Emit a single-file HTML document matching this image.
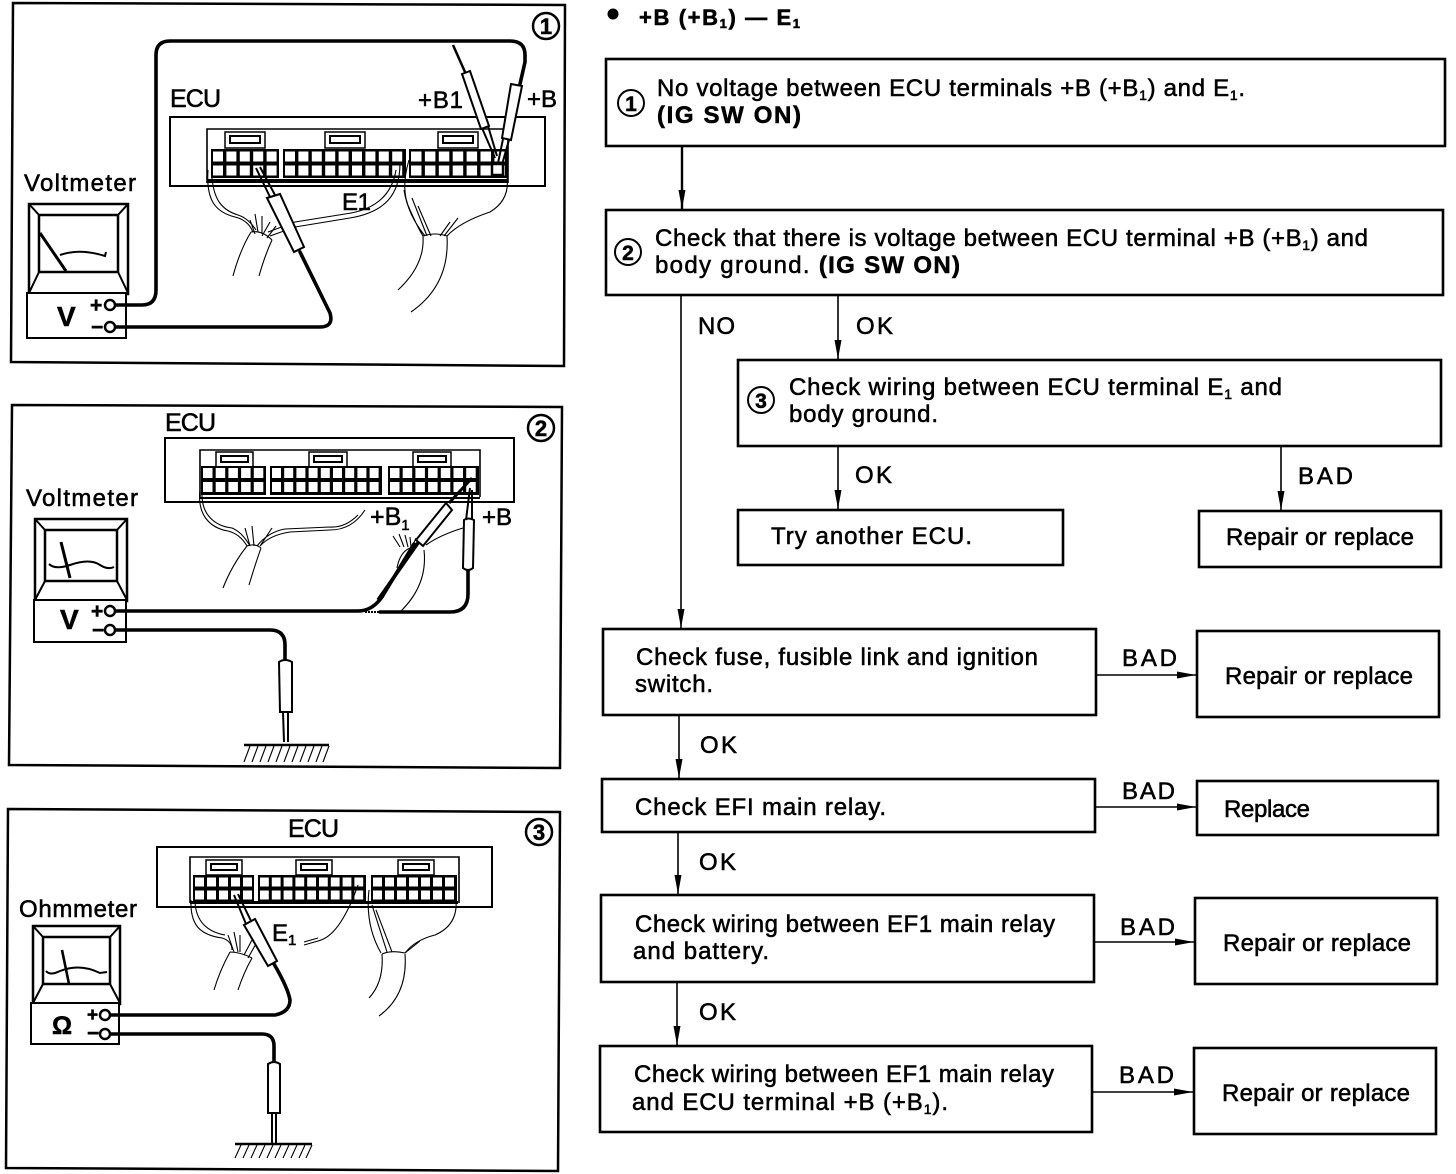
<!DOCTYPE html>
<html><head><meta charset="utf-8"><style>
html,body{margin:0;padding:0;background:#fff}
svg{display:block}
text{font-family:"Liberation Sans",sans-serif;fill:#000;stroke:#000;stroke-width:.55}
.t{font-size:24px;letter-spacing:0}
.b{font-weight:bold}
.f{fill:none;stroke:#000;stroke-width:2}
.box{fill:#fff;stroke:#000;stroke-width:2.6}
.thin{fill:none;stroke:#000;stroke-width:1.1}
.w{fill:none;stroke:#000;stroke-width:3.6;stroke-linecap:round}
.c{fill:none;stroke:#fff}
.pb{fill:#fff;stroke:#000;stroke-width:2}
</style></head><body>
<svg width="1456" height="1174" viewBox="0 0 1456 1174" xmlns="http://www.w3.org/2000/svg">
<defs>
<marker id="a" markerWidth="20" markerHeight="10" refX="19" refY="5" orient="auto" markerUnits="userSpaceOnUse"><path d="M0,1.5 L0,8.5 L19,5 Z"/></marker>
</defs>
<rect width="1456" height="1174" fill="#fff"/>

<!-- PANEL 1 -->
<path d="M13,3 L565,5 L564,366 L11,362 Z" fill="none" stroke="#000" stroke-width="2.5"/>
<circle cx="546" cy="26" r="13" fill="none" stroke="#000" stroke-width="2.5"/>
<text x="546" y="34" text-anchor="middle" style="font-size:22px;font-weight:bold">1</text>
<text x="170" y="107" style="font-size:25px" textLength="51">ECU</text>
<text x="418" y="108" style="font-size:24px" textLength="45">+B1</text>
<text x="527" y="107" style="font-size:24px" textLength="30">+B</text>
<text x="24" y="191" style="font-size:24px" textLength="112">Voltmeter</text>
<text x="342" y="210" style="font-size:24px" textLength="29">E1</text>
<rect x="170" y="117" width="375" height="69" fill="#fff" stroke="#000" stroke-width="2"/>
<path d="M207,183 V129 H508 V183" fill="none" stroke="#000" stroke-width="1.6"/>
<rect x="208" y="179" width="300" height="4"/>
<rect x="225" y="132" width="40" height="16" fill="#fff" stroke="#000" stroke-width="1.5"/><rect x="230" y="136" width="30" height="7" fill="#fff" stroke="#000" stroke-width="2"/>
<rect x="325" y="132" width="40" height="16" fill="#fff" stroke="#000" stroke-width="1.5"/><rect x="330" y="136" width="30" height="7" fill="#fff" stroke="#000" stroke-width="2"/>
<rect x="438" y="132" width="40" height="16" fill="#fff" stroke="#000" stroke-width="1.5"/><rect x="443" y="136" width="30" height="7" fill="#fff" stroke="#000" stroke-width="2"/>
<rect x="211" y="149" width="68" height="29"/><rect x="283" y="149" width="123" height="29"/><rect x="409" y="149" width="99" height="29"/>
<path class="c" d="M213,156.5 H279 M213,170.5 H279" stroke-width="10" stroke-dasharray="10 3.4"/>
<path class="c" d="M285,156.5 H405 M285,170.5 H405" stroke-width="10" stroke-dasharray="10 3.4"/>
<path class="c" d="M411,156.5 H507 M411,170.5 H507" stroke-width="10" stroke-dasharray="10.5 3.4"/>
<path class="thin" d="M208,170 C206,200 215,212 235,217 Q248,220 253,232 M212,178 C214,200 222,210 238,215 Q248,218 256,230"/>
<path class="thin" d="M400,163 C400,195 385,212 350,218 L295,227 L270,236 M396,170 C392,195 375,210 345,214 L295,222 L268,232"/>
<path class="thin" d="M255,214 L258,232 M262,216 L262,234 M270,222 L262,236 M276,226 L267,238 M250,220 L255,234"/>
<path class="thin" d="M251,232 Q240,250 233,276 M272,240 Q265,255 259,276 M251,232 Q262,230 272,240"/>
<path class="thin" d="M409,160 Q400,190 410,210 Q418,228 423,236 M404,190 Q408,215 425,236 M412,198 L427,236 M418,206 L431,236 M458,218 L444,236 M450,222 L440,236"/>
<path class="thin" d="M507,177 Q510,200 490,212 Q460,222 447,236"/>
<path class="thin" d="M423,236 Q425,265 398,290 M447,236 Q450,285 411,312 M423,236 Q435,232 447,236"/>
<rect x="29" y="204" width="99" height="90" fill="#fff" stroke="#000" stroke-width="2.5"/>
<rect x="27" y="293" width="99" height="45" fill="#fff" stroke="#000" stroke-width="2"/>
<rect x="39" y="215" width="79" height="57" fill="#fff" stroke="#000" stroke-width="2.5"/>
<path class="f" stroke-width="1.5" d="M29,204 L39,215 M128,204 L118,215 M39,272 L29,293 M118,272 L128,293"/>
<path d="M40,233 L66,271" stroke="#000" stroke-width="3"/>
<path class="f" stroke-width="1.5" d="M60,255 Q80,248 105,256 L106,252"/>
<text x="57" y="326" class="b" style="font-size:28px">V</text>
<text x="90" y="312" class="b" style="font-size:21px">+</text>
<text x="91" y="334" class="b" style="font-size:21px">−</text>
<path class="w" d="M110,305 H142 Q156,305 156,290 V55 Q156,41 170,41 H510 Q525,41 525,55 V62 L520,84"/>
<path class="w" d="M110,327 H320 Q334,327 330,313 L300,252"/>
<path d="M453,45 L465,72" stroke="#000" stroke-width="2.5"/>
<path class="pb" d="M462,74 L470,71 L489,126 L481,129 Z"/>
<path class="f" stroke-width="1.5" d="M482,128 L495,158 M488,126 L497,156"/>
<path class="pb" d="M511,84 L522,86 L511,140 L502,138 Z"/>
<path class="f" stroke-width="1.5" d="M503,139 L497,168 M509,140 L501,168"/>
<rect x="492" y="164" width="11" height="11" fill="#fff" stroke="#000" stroke-width="2.5"/>
<path class="pb" d="M267,198 L280,194 L304,247 L294,252 Z"/>
<path class="f" stroke-width="1.5" d="M270,197 L256,168 M275,195 L260,167"/>
<g fill="#fff" stroke="#000" stroke-width="2.5"><circle cx="110" cy="305" r="5"/><circle cx="110" cy="327" r="5"/></g>

<!-- PANEL 2 -->
<path d="M12,405 L562,407 L560,768 L9,765 Z" fill="none" stroke="#000" stroke-width="2.5"/>
<circle cx="541" cy="428" r="13" fill="none" stroke="#000" stroke-width="2.5"/>
<text x="541" y="436" text-anchor="middle" style="font-size:22px;font-weight:bold">2</text>
<text x="165" y="431" style="font-size:25px" textLength="51">ECU</text>
<text x="26" y="506" style="font-size:24px" textLength="112">Voltmeter</text>
<rect x="165" y="438" width="349" height="64" fill="#fff" stroke="#000" stroke-width="2"/>
<path d="M200,497 V450 H480 V497" fill="none" stroke="#000" stroke-width="1.6"/>
<rect x="216" y="452" width="37" height="15" fill="#fff" stroke="#000" stroke-width="1.5"/><rect x="221" y="456" width="27" height="6" fill="#fff" stroke="#000" stroke-width="2"/>
<rect x="309" y="452" width="38" height="15" fill="#fff" stroke="#000" stroke-width="1.5"/><rect x="314" y="456" width="28" height="6" fill="#fff" stroke="#000" stroke-width="2"/>
<rect x="413" y="452" width="38" height="15" fill="#fff" stroke="#000" stroke-width="1.5"/><rect x="418" y="456" width="28" height="6" fill="#fff" stroke="#000" stroke-width="2"/>
<rect x="201" y="466" width="65" height="29"/><rect x="270" y="466" width="112" height="29"/><rect x="388" y="466" width="91" height="29"/>
<path class="c" d="M203,473 H265 M203,487 H265" stroke-width="10" stroke-dasharray="9.5 3.2"/>
<path class="c" d="M272,473 H381 M272,487 H381" stroke-width="10" stroke-dasharray="9 3.2"/>
<path class="c" d="M390,473 H478 M390,487 H478" stroke-width="10" stroke-dasharray="9.5 3.2"/>
<rect x="200" y="497" width="280" height="2"/>
<text x="370" y="525" style="font-size:25px">+B<tspan dy="5" style="font-size:15px">1</tspan></text>
<text x="482" y="525" style="font-size:24px" textLength="30">+B</text>
<path class="thin" d="M200,490 C197,515 210,528 228,531 Q240,534 247,546 M202,495 C202,515 215,526 232,528 Q242,532 250,546"/>
<path class="thin" d="M365,510 Q352,530 330,530 L290,532 Q270,535 260,546 M358,515 Q345,528 330,527 L285,529 Q268,532 257,546 M245,528 L250,546 M252,526 L254,546 M272,528 L260,546"/>
<path class="thin" d="M247,546 Q232,565 223,588 M261,548 Q255,565 249,585 M247,546 Q255,543 261,548"/>
<path class="thin" d="M393,536 L400,547 M399,534 L404,547 M405,535 L408,547 M410,537 L411,547 M416,538 L412,547 M410,548 Q400,552 397,568"/>
<path class="thin" d="M424,550 Q428,585 400,612 M426,545 Q440,535 463,528"/>
<path d="M365,612 H385" stroke="#000" stroke-width="2" stroke-dasharray="2 1"/>
<rect x="35" y="519" width="92" height="82" fill="#fff" stroke="#000" stroke-width="2.5"/>
<rect x="34" y="600" width="92" height="42" fill="#fff" stroke="#000" stroke-width="2"/>
<rect x="45" y="530" width="72" height="51" fill="#fff" stroke="#000" stroke-width="2.5"/>
<path class="f" stroke-width="1.5" d="M35,519 L45,530 M127,519 L117,530 M45,581 L35,600 M117,581 L127,600"/>
<path d="M61,542 L70,578" stroke="#000" stroke-width="3"/>
<path class="f" stroke-width="1.5" d="M49,564 Q55,570 70,565 Q90,558 100,565 Q108,570 114,567"/>
<text x="60" y="629" class="b" style="font-size:28px">V</text>
<text x="91" y="618" class="b" style="font-size:21px">+</text>
<text x="92" y="637" class="b" style="font-size:21px">−</text>
<path class="w" d="M110,611 H358 Q372,611 382,597 L414,544"/>
<path d="M378,600 L420,540" stroke="#000" stroke-width="3.6"/>
<path class="w" d="M380,612 H450 Q468,612 468,594 V570"/>
<path class="w" d="M110,630 H270 Q285,630 285,645 V660"/>
<path class="pb" d="M416,540 L446,503 L452,510 L423,546 Z"/>
<path d="M449,503 L472,478" stroke="#000" stroke-width="3"/>
<path class="pb" d="M464,520 Q468,517 474,520 L473,568 Q468,572 463,568 Z"/>
<path class="f" stroke-width="1.5" d="M466,520 L470,488 M472,520 L472,490"/>
<path class="pb" d="M279,662 Q285,658 292,662 L292,712 H280 Z"/>
<path class="f" stroke-width="1.5" d="M283,712 L284,742 M288,712 L288,742"/>
<path d="M244,745 H329" stroke="#000" stroke-width="2.5"/>
<path class="thin" d="M250,746 L244,762 M258,746 L252,762 M266,746 L260,762 M274,746 L268,762 M282,746 L276,762 M290,746 L284,762 M298,746 L292,762 M306,746 L300,762 M314,746 L308,762 M322,746 L316,762 M329,746 L323,762"/>
<g fill="#fff" stroke="#000" stroke-width="2.5"><circle cx="110" cy="611" r="5"/><circle cx="110" cy="630" r="5"/></g>

<!-- PANEL 3 -->
<path d="M8,809 L560,812 L558,1171 L6,1168 Z" fill="none" stroke="#000" stroke-width="2.5"/>
<circle cx="539" cy="832" r="13" fill="none" stroke="#000" stroke-width="2.5"/>
<text x="539" y="840" text-anchor="middle" style="font-size:22px;font-weight:bold">3</text>
<text x="288" y="837" style="font-size:25px" textLength="51">ECU</text>
<text x="19" y="917" style="font-size:24px" textLength="118">Ohmmeter</text>
<rect x="157" y="847" width="335" height="60" fill="#fff" stroke="#000" stroke-width="2"/>
<path d="M190,903 V857 H459 V903" fill="none" stroke="#000" stroke-width="1.6"/>
<rect x="190" y="901" width="268" height="3"/>
<rect x="206" y="860" width="36" height="15" fill="#fff" stroke="#000" stroke-width="1.5"/><rect x="211" y="864" width="26" height="6" fill="#fff" stroke="#000" stroke-width="2"/>
<rect x="296" y="860" width="36" height="15" fill="#fff" stroke="#000" stroke-width="1.5"/><rect x="301" y="864" width="26" height="6" fill="#fff" stroke="#000" stroke-width="2"/>
<rect x="398" y="860" width="36" height="15" fill="#fff" stroke="#000" stroke-width="1.5"/><rect x="403" y="864" width="26" height="6" fill="#fff" stroke="#000" stroke-width="2"/>
<rect x="193" y="875" width="61" height="27"/><rect x="258" y="875" width="108" height="27"/><rect x="371" y="875" width="86" height="27"/>
<path class="c" d="M195,882 H253 M195,895 H253" stroke-width="9" stroke-dasharray="9 3"/>
<path class="c" d="M260,882 H365 M260,895 H365" stroke-width="9" stroke-dasharray="8.8 3"/>
<path class="c" d="M373,882 H456 M373,895 H456" stroke-width="9" stroke-dasharray="9 3"/>
<text x="272" y="941" style="font-size:24px">E<tspan dy="4" style="font-size:15px">1</tspan></text>
<path class="thin" d="M191,900 C190,925 200,935 222,938 Q232,941 232,950 M195,902 C196,922 208,932 225,935"/>
<path class="thin" d="M304,942 L318,938 M304,945 L318,941 Q340,936 358,885"/>
<path class="thin" d="M228,935 L234,952 M234,932 L238,952 M240,935 L240,952 M252,940 L244,955 M257,942 L248,958"/>
<path class="thin" d="M230,952 Q220,970 214,990 M252,958 Q244,972 238,990 M230,952 Q240,952 252,958"/>
<path class="thin" d="M369,890 Q365,925 381,953 M372,905 L387,952 M376,910 L392,952 M420,941 L405,953"/>
<path class="thin" d="M456,900 Q458,925 435,935 Q415,940 405,953 M382,954 Q392,950 405,953"/>
<path class="thin" d="M382,954 Q384,982 369,998 M405,954 Q408,995 379,1016"/>
<rect x="33" y="926" width="87" height="78" fill="#fff" stroke="#000" stroke-width="2.5"/>
<rect x="31" y="1003" width="88" height="41" fill="#fff" stroke="#000" stroke-width="2"/>
<rect x="43" y="937" width="67" height="47" fill="#fff" stroke="#000" stroke-width="2.5"/>
<path class="f" stroke-width="1.5" d="M33,926 L43,937 M120,926 L110,937 M43,984 L33,1003 M110,984 L120,1003"/>
<path d="M62,950 L69,984" stroke="#000" stroke-width="2.6"/>
<path class="f" stroke-width="1.5" d="M46,971 Q50,976 60,971 Q80,963 100,973 L107,972"/>
<text x="52" y="1034" style="font-size:25px;font-weight:bold">Ω</text>
<text x="87" y="1021" class="b" style="font-size:19px">+</text>
<text x="87" y="1040" class="b" style="font-size:21px">−</text>
<path class="w" d="M105,1015 H275 Q290,1012 290,1000 Q288,988 274,964"/>
<path class="w" d="M105,1034 H262 Q274,1034 274,1046 V1062"/>
<path class="pb" d="M244,925 L255,919 L277,961 L268,966 Z"/>
<path class="f" stroke-width="1.5" d="M246,924 L234,895 M251,921 L238,894"/>
<path class="pb" d="M268,1064 Q274,1060 280,1064 L280,1113 H268 Z"/>
<path class="f" stroke-width="1.5" d="M272,1113 V1143 M276,1113 V1143"/>
<path d="M235,1144 H312" stroke="#000" stroke-width="2.5"/>
<path class="thin" d="M241,1145 L235,1158 M249,1145 L243,1158 M257,1145 L251,1158 M265,1145 L259,1158 M273,1145 L267,1158 M281,1145 L275,1158 M289,1145 L283,1158 M297,1145 L291,1158 M305,1145 L299,1158 M312,1145 L306,1158"/>
<g fill="#fff" stroke="#000" stroke-width="2.5"><circle cx="105" cy="1015" r="5"/><circle cx="105" cy="1034" r="5"/></g>

<!-- FLOW -->
<circle cx="613" cy="14" r="5.5"/>
<text x="639" y="25" class="b" style="font-size:22px" textLength="161">+B (+B<tspan dy="3" style="font-size:13px">1</tspan><tspan dy="-3">) — E</tspan><tspan dy="3" style="font-size:13px">1</tspan></text>

<rect class="box" x="606" y="59" width="839" height="87"/>
<rect class="box" x="606" y="210" width="837" height="85"/>
<rect class="box" x="738" y="360" width="703" height="86"/>
<rect class="box" x="738" y="510" width="325" height="55"/>
<rect class="box" x="1199" y="511" width="242" height="56"/>
<rect class="box" x="603" y="629" width="493" height="86"/>
<rect class="box" x="1197" y="631" width="242" height="86"/>
<rect class="box" x="602" y="779" width="493" height="53"/>
<rect class="box" x="1197" y="781" width="241" height="54"/>
<rect class="box" x="601" y="895" width="493" height="87"/>
<rect class="box" x="1195" y="898" width="242" height="86"/>
<rect class="box" x="600" y="1046" width="492" height="86"/>
<rect class="box" x="1194" y="1048" width="242" height="86"/>

<g fill="none" stroke="#000">
<path d="M682,147 V209" stroke-width="2.4" marker-end="url(#a)"/>
<path d="M681,296 V628" stroke-width="1.6" marker-end="url(#a)"/>
<path d="M838,296 V359" stroke-width="1.6" marker-end="url(#a)"/>
<path d="M838,447 V509" stroke-width="1.6" marker-end="url(#a)"/>
<path d="M1281,447 V510" stroke-width="1.6" marker-end="url(#a)"/>
<path d="M1097,675 H1196" stroke-width="1.6" marker-end="url(#a)"/>
<path d="M679,716 V778" stroke-width="1.6" marker-end="url(#a)"/>
<path d="M1096,807 H1196" stroke-width="1.6" marker-end="url(#a)"/>
<path d="M678,833 V894" stroke-width="1.6" marker-end="url(#a)"/>
<path d="M1095,942 H1194" stroke-width="1.6" marker-end="url(#a)"/>
<path d="M677,983 V1045" stroke-width="1.6" marker-end="url(#a)"/>
<path d="M1093,1092 H1193" stroke-width="1.6" marker-end="url(#a)"/>
</g>

<g fill="none" stroke="#000" stroke-width="2">
<circle cx="631" cy="103" r="13"/><circle cx="628" cy="252" r="13"/><circle cx="761" cy="400" r="13"/>
</g>
<text x="631" y="111" text-anchor="middle" class="b" style="font-size:21px">1</text>
<text x="628" y="260" text-anchor="middle" class="b" style="font-size:21px">2</text>
<text x="761" y="408" text-anchor="middle" class="b" style="font-size:21px">3</text>

<text class="t" x="657" y="96" textLength="588">No voltage between ECU terminals +B (+B<tspan dy="4" style="font-size:14px">1</tspan><tspan dy="-4">) and E</tspan><tspan dy="4" style="font-size:14px">1</tspan><tspan dy="-4">.</tspan></text>
<text class="t b" x="657" y="123" textLength="144">(IG SW ON)</text>
<text class="t" x="655" y="246" textLength="713">Check that there is voltage between ECU terminal +B (+B<tspan dy="4" style="font-size:14px">1</tspan><tspan dy="-4">) and</tspan></text>
<text class="t" x="655" y="273" textLength="305">body ground. <tspan class="b">(IG SW ON)</tspan></text>
<text class="t" x="789" y="395" textLength="493">Check wiring between ECU terminal E<tspan dy="4" style="font-size:14px">1</tspan><tspan dy="-4"> and</tspan></text>
<text class="t" x="789" y="422" textLength="149">body ground.</text>
<text class="t" x="771" y="544" textLength="201">Try another ECU.</text>
<text class="t" x="1226" y="545" textLength="188">Repair or replace</text>
<text class="t" x="636" y="665" textLength="402">Check fuse, fusible link and ignition</text>
<text class="t" x="635" y="692" textLength="78">switch.</text>
<text class="t" x="1225" y="684" textLength="188">Repair or replace</text>
<text class="t" x="635" y="815" textLength="251">Check EFI main relay.</text>
<text class="t" x="1224" y="817" textLength="86">Replace</text>
<text class="t" x="635" y="932" textLength="420">Check wiring between EF1 main relay</text>
<text class="t" x="633" y="959" textLength="136">and battery.</text>
<text class="t" x="1223" y="951" textLength="188">Repair or replace</text>
<text class="t" x="634" y="1082" textLength="420">Check wiring between EF1 main relay</text>
<text class="t" x="632" y="1110" textLength="316">and ECU terminal +B (+B<tspan dy="4" style="font-size:14px">1</tspan><tspan dy="-4">).</tspan></text>
<text class="t" x="1222" y="1101" textLength="188">Repair or replace</text>

<text class="t" x="698" y="334" textLength="37">NO</text>
<text class="t" x="856" y="334" textLength="37">OK</text>
<text class="t" x="855" y="483" textLength="37">OK</text>
<text class="t" x="1298" y="484" textLength="55">BAD</text>
<text class="t" x="1122" y="666" textLength="55">BAD</text>
<text class="t" x="700" y="753" textLength="37">OK</text>
<text class="t" x="1122" y="799" textLength="53">BAD</text>
<text class="t" x="699" y="870" textLength="37">OK</text>
<text class="t" x="1120" y="935" textLength="55">BAD</text>
<text class="t" x="699" y="1020" textLength="37">OK</text>
<text class="t" x="1119" y="1083" textLength="55">BAD</text>
</svg>
</body></html>
